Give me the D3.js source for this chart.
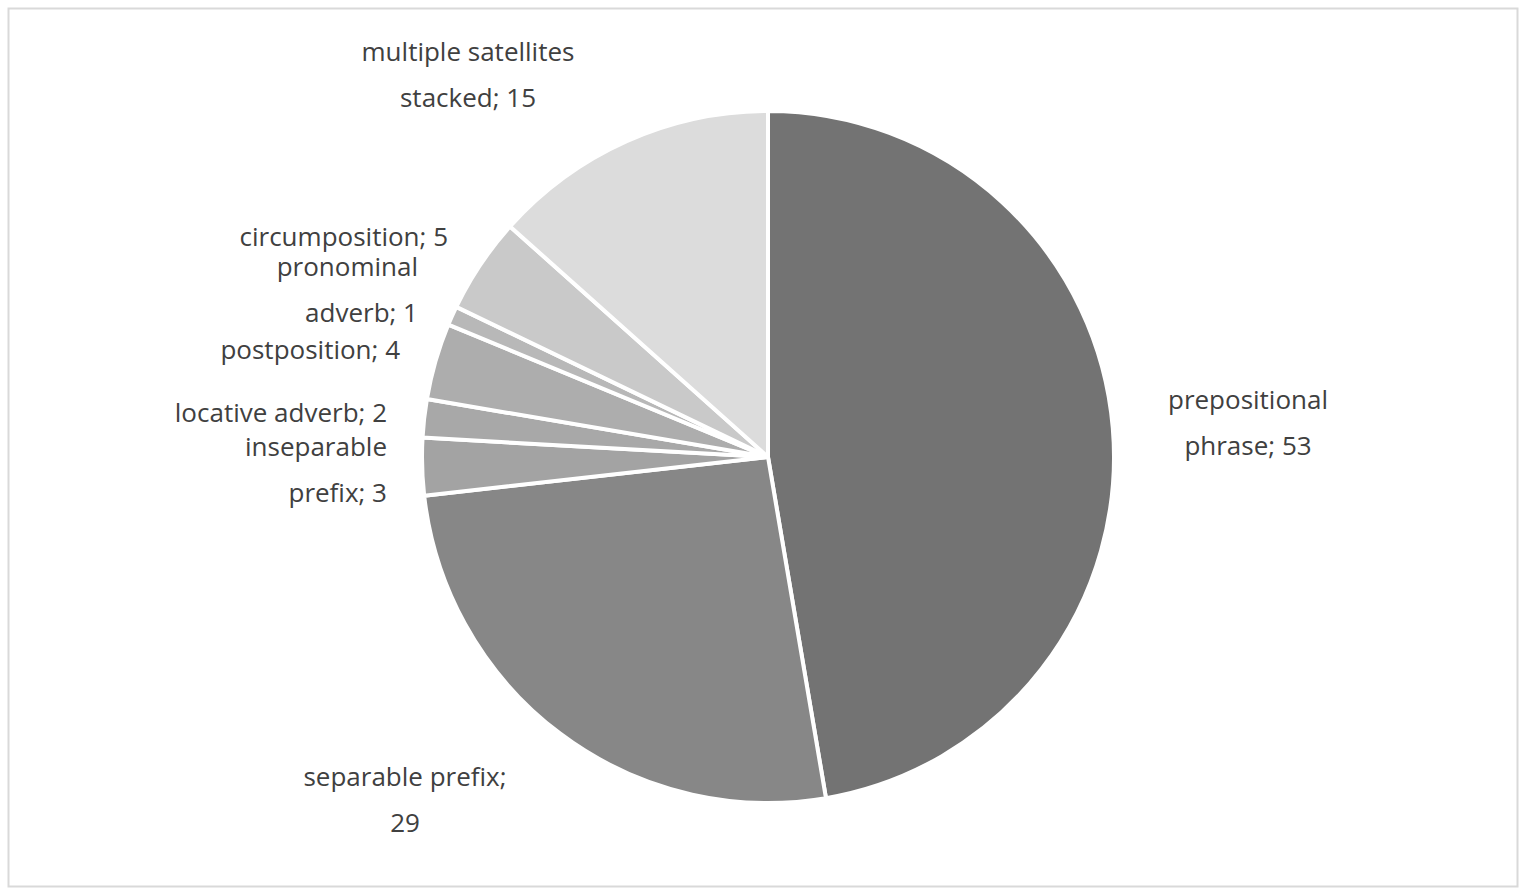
<!DOCTYPE html><html><head><meta charset="utf-8">
<script src="https://cdn.jsdelivr.net/npm/d3@7"></script>
<style>body{margin:0;background:#fff}</style></head><body>
<svg id="c" width="1526" height="895"></svg>
<script>
const categories=["prepositional phrase","separable prefix","inseparable prefix","locative adverb","postposition","pronominal adverb","circumposition","multiple satellites stacked"];
const values=[53,29,3,2,4,1,5,15];
const colors=["#737373","#878787","#a3a3a3","#a8a8a8","#adadad","#b8b8b8","#c9c9c9","#dcdcdc"];
const labelLines=[["prepositional","phrase; 53"],["separable prefix;","29"],["inseparable","prefix; 3"],["locative adverb; 2"],["postposition; 4"],["pronominal","adverb; 1"],["circumposition; 5"],["multiple satellites","stacked; 15"]];
const labelPos=[[1248,387,"middle"],[405,764,"middle"],[387,434,"end"],[387,400,"end"],[400,337,"end"],[418,254,"end"],[448,224,"end"],[468,39,"middle"]];
const svg=d3.select("#c");
svg.append("rect").attr("x",8.5).attr("y",8.5).attr("width",1509).attr("height",878).attr("fill","#fff").attr("stroke","#d9d9d9").attr("stroke-width",2);
const cx=768,cy=457,r=346;
const pie=d3.pie().sort(null)(values);
const arc=d3.arc().innerRadius(0).outerRadius(r);
const g=svg.append("g").attr("transform",`translate(${cx},${cy})`);
g.selectAll("path").data(pie).join("path").attr("d",arc).attr("fill",(d,i)=>colors[i]).attr("stroke","#fff").attr("stroke-width",4).attr("stroke-linejoin","bevel");
categories.forEach((c,i)=>{
 const [x,y,a]=labelPos[i];
 const t=svg.append("text").attr("x",x).attr("y",y).attr("text-anchor",a).attr("font-family","Open Sans, Liberation Sans, sans-serif").attr("font-size",26).attr("fill","#404040").attr("dominant-baseline","hanging");
 labelLines[i].forEach((l,j)=>t.append("tspan").attr("x",x).attr("dy",j?46:0).text(l));
});
</script></body></html>
